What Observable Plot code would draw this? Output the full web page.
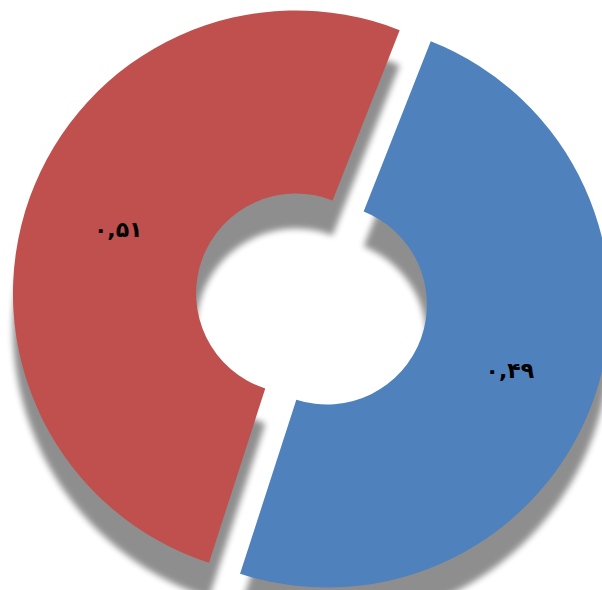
<!DOCTYPE html>
<html><head><meta charset="utf-8">
<script src="https://cdn.jsdelivr.net/npm/d3@7"></script>
<script src="https://cdn.jsdelivr.net/npm/@observablehq/plot@0.6"></script>
<style>body{margin:0;background:#fff;overflow:hidden}</style>
</head><body><div id="chart"></div>
<script>
// Data
const categories = ["B", "A"];          // blue slice, red slice
const values = [0.49, 0.51];
const labels = ["۰,۴۹", "۰,۵۱"];
const colors = ["#4F81BD", "#C0504D"];

// Layout (pixels)
const W = 602, H = 590;
const R = 283;             // outer radius px
const cx = 311.5, cy = 299; // overall centre px
const innerRatio = 0.353;
const explode = 16.5 / R;
const startAngle = 21.5 * Math.PI / 180;

const rows = categories.map((c, i) => ({category: c, value: values[i], label: labels[i], color: colors[i]}));
const pie = d3.pie().sort(null).value(d => d.value)
  .startAngle(startAngle).endAngle(startAngle + 2 * Math.PI);
const arcs = pie(rows);
arcs.forEach(a => {
  const mid = (a.startAngle + a.endAngle) / 2;
  a.ox = explode * Math.sin(mid);
  a.oy = explode * Math.cos(mid);
  const rc = (1 + innerRatio) / 2;
  a.lx = a.ox + rc * Math.sin(mid);
  a.ly = a.oy + rc * Math.cos(mid);
});

function donut(index, scales) {
  const x = scales.x, y = scales.y;
  const unit = x(1) - x(0);
  const g = d3.create("svg:g");
  g.append("defs").append("filter").attr("id", "sh")
    .attr("x", "-20%").attr("y", "-20%").attr("width", "140%").attr("height", "140%")
    .append("feGaussianBlur").attr("stdDeviation", 3);
  const arcGen = d3.arc().innerRadius(innerRatio * unit).outerRadius(unit);
  const sh = g.append("g").attr("transform", "translate(0,35)")
    .attr("filter", "url(#sh)").attr("opacity", 0.44);
  arcs.forEach(a => sh.append("path")
    .attr("transform", `translate(${x(a.ox)},${y(a.oy)})`)
    .attr("d", arcGen(a)).attr("fill", "#000"));
  arcs.forEach(a => g.append("path")
    .attr("transform", `translate(${x(a.ox)},${y(a.oy)})`)
    .attr("d", arcGen(a)).attr("fill", a.data.color));
  return g.node();
}

const chart = Plot.plot({
  width: W, height: H, margin: 0,
  x: {domain: [(0 - cx) / R, (W - cx) / R], axis: null},
  y: {domain: [(cy - H) / R, cy / R], axis: null},
  marks: [
    donut,
    Plot.text(arcs, {x: "lx", y: "ly", text: d => d.data.label, dx: 2, dy: 1,
      fontSize: 22, fontWeight: "bold", fontFamily: "DejaVu Sans", fill: "black"})
  ]
});
document.getElementById("chart").appendChild(chart);
</script>
</body></html>
